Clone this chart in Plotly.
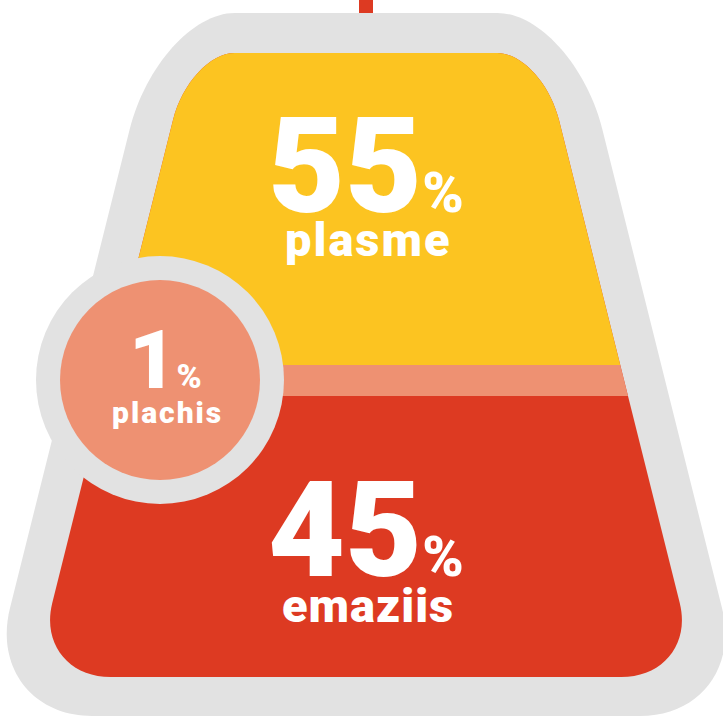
import plotly.graph_objects as go

# ---- data ----
percents = [55, 1, 45]
labels = ["plasme", "plachis", "emaziis"]
colors = ["#FCC421", "#EE9172", "#DD3A22"]
GRAY = "#E2E2E2"
W, H = 723, 717
CX = 366

def hw_in(y):
    return 163 + 0.25 * y

def hw_out(y):
    return 204 + 0.25 * y

def lerp(a, b, t):
    return (a[0] + (b[0] - a[0]) * t, a[1] + (b[1] - a[1]) * t)

def pt(p):
    return f"{p[0]:.2f},{p[1]:.2f}"

def corner(p0, k, p1, f=0.55):
    c1 = lerp(p0, k, f)
    c2 = lerp(p1, k, f)
    return f" C {pt(c1)} {pt(c2)} {pt(p1)}"

def flask_path(hw, ytop, ybot, top_in, top_side_y, bot_in, bot_side_y, cut=None):
    kTL = (CX - hw(ytop), ytop)
    kTR = (CX + hw(ytop), ytop)
    sTL = (CX - hw(top_side_y), top_side_y)
    sTR = (CX + hw(top_side_y), top_side_y)
    tL = (CX - hw(ytop) + top_in, ytop)
    tR = (CX + hw(ytop) - top_in, ytop)
    if cut is not None:
        p = f"M {pt((CX - hw(cut), cut))} L {pt(sTL)}"
        p += corner(sTL, kTL, tL)
        p += f" L {pt(tR)}"
        p += corner(tR, kTR, sTR)
        p += f" L {pt((CX + hw(cut), cut))} Z"
        return p
    kBL = (CX - hw(ybot), ybot)
    kBR = (CX + hw(ybot), ybot)
    sBL = (CX - hw(bot_side_y), bot_side_y)
    sBR = (CX + hw(bot_side_y), bot_side_y)
    bL = (CX - hw(ybot) + bot_in, ybot)
    bR = (CX + hw(ybot) - bot_in, ybot)
    p = f"M {pt(sBL)} L {pt(sTL)}"
    p += corner(sTL, kTL, tL)
    p += f" L {pt(tR)}"
    p += corner(tR, kTR, sTR)
    p += f" L {pt(sBR)}"
    p += corner(sBR, kBR, bR)
    p += f" L {pt(bL)}"
    p += corner(bL, kBL, sBL)
    p += " Z"
    return p

shapes = []
shapes.append(dict(type="rect", x0=359, x1=373, y0=-2, y1=16, fillcolor=colors[2], line_width=0))
shapes.append(dict(type="path", path=flask_path(hw_out, 13, 716, 76, 130, 109, 608),
                   fillcolor=GRAY, line_width=0))
shapes.append(dict(type="path", path=flask_path(hw_in, 53, 677, 45, 120, 77, 603),
                   fillcolor=colors[2], line_width=0))
Y1, Y2 = 365, 396
shapes.append(dict(type="path", path=flask_path(hw_in, 53, 677, 45, 120, 77, 603, cut=Y1),
                   fillcolor=colors[0], line_width=0))
band = (f"M {pt((CX - hw_in(Y1), Y1))} L {pt((CX + hw_in(Y1), Y1))} "
        f"L {pt((CX + hw_in(Y2), Y2))} L {pt((CX - hw_in(Y2), Y2))} Z")
shapes.append(dict(type="path", path=band, fillcolor=colors[1], line_width=0))
ccx, ccy = 160, 380
shapes.append(dict(type="circle", x0=ccx - 124, x1=ccx + 124, y0=ccy - 124, y1=ccy + 124,
                   fillcolor=GRAY, line_width=0))
shapes.append(dict(type="circle", x0=ccx - 100, x1=ccx + 100, y0=ccy - 100, y1=ccy + 100,
                   fillcolor=colors[1], line_width=0))

FONT = "Roboto, Liberation Sans, Arial, sans-serif"
WEIGHT = 900
ann = []
def big(x, y, val, s_num, s_pct):
    ann.append(dict(x=x, y=y, xref="x", yref="y", showarrow=False, xanchor="center", yanchor="middle",
                    text=f"<span style='font-size:{s_num}px'>{val}</span>"
                         f"<span style='font-size:{s_pct}px'>%</span>",
                    font=dict(family=FONT, size=s_num, color="white", weight=WEIGHT)))
def small(x, y, txt, s, ls):
    ann.append(dict(x=x, y=y, xref="x", yref="y", showarrow=False, xanchor="center", yanchor="middle",
                    text=f"<span style='letter-spacing:{ls}px'>{txt}</span>",
                    font=dict(family=FONT, size=s, color="white", weight=WEIGHT)))

big(366, 166, percents[0], 133, 56)
small(368, 239, labels[0], 47, 2)
big(366, 530, percents[2], 133, 56)
small(368, 605, labels[2], 47, 1)
big(165, 360, percents[1], 82, 34)
small(167, 412, labels[1], 30, 2)

fig = go.Figure()
fig.add_trace(go.Scatter(x=[0, W], y=[0, H], mode="markers", marker=dict(opacity=0), hoverinfo="skip"))
fig.update_layout(
    width=W, height=H, margin=dict(l=0, r=0, t=0, b=0),
    paper_bgcolor="white", plot_bgcolor="white",
    xaxis=dict(range=[0, W], visible=False, fixedrange=True),
    yaxis=dict(range=[H, 0], visible=False, fixedrange=True),
    shapes=shapes, annotations=ann, showlegend=False,
)
fig.write_html("out.html", config={"displayModeBar": False},
               post_script="document.body.style.margin='0';document.body.style.padding='0';")
